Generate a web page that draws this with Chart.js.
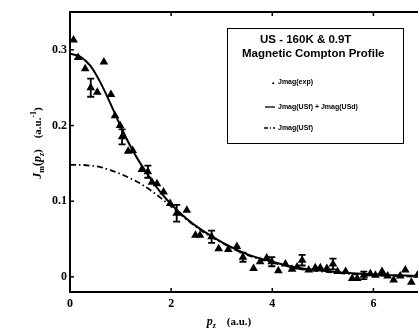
<!DOCTYPE html>
<html>
<head>
<meta charset="utf-8">
<script src="https://cdn.jsdelivr.net/npm/chart.js@4.4.0/dist/chart.umd.min.js"></script>
<style>
  html, body { margin: 0; padding: 0; background: #fff; overflow: hidden; }
  #wrap { width: 430px; height: 329px; }
</style>
</head>
<body>
<div id="wrap"><canvas id="myChart" width="430" height="329"></canvas></div>
<script>
// measured points, Jmag(exp)
const pzExp = [0.07, 0.16, 0.30, 0.41, 0.54, 0.67, 0.81, 0.89, 0.99, 1.03, 1.15, 1.24, 1.42, 1.54, 1.62, 1.72, 1.85, 1.98,
  2.11, 2.31, 2.48, 2.57, 2.80, 2.94, 3.13, 3.30, 3.42, 3.63, 3.76, 3.89, 3.99, 4.12, 4.26, 4.39, 4.49, 4.59,
  4.72, 4.85, 4.95, 5.08, 5.20, 5.29, 5.45, 5.58, 5.68, 5.81, 5.94, 6.04, 6.17, 6.28, 6.40, 6.53, 6.63, 6.75, 6.87];
const jExp = [0.313, 0.290, 0.275, 0.250, 0.244, 0.284, 0.241, 0.213, 0.200, 0.185, 0.166, 0.167, 0.142, 0.139, 0.125, 0.123, 0.112, 0.097,
  0.084, 0.088, 0.055, 0.055, 0.053, 0.037, 0.036, 0.040, 0.026, 0.011, 0.020, 0.025, 0.020, 0.008, 0.017, 0.010, 0.013, 0.022,
  0.009, 0.012, 0.012, 0.011, 0.017, 0.007, 0.007, -0.002, -0.002, 0.002, 0.004, 0.002, 0.007, 0.001, -0.004, 0.001, 0.009, -0.007, 0.002];
// error bar half-heights (null = none drawn)
const errExp = [null, null, null, 0.012, null, null, null, null, null, 0.010, null, null, null, 0.008, null, null, null, null,
  0.011, null, null, null, 0.008, null, null, null, 0.006, null, null, null, 0.006, null, null, null, null, 0.007,
  null, null, null, null, 0.007, null, null, null, null, 0.005, null, null, null, null, null, null, null, null, null];

// fitted curves
const pzFit = [0, 0.2, 0.4, 0.6, 0.8, 1.0, 1.2, 1.4, 1.6, 1.8, 2.0, 2.3, 2.6, 3.0, 3.5, 4.0, 4.5, 5.0, 5.5, 6.0, 6.5, 7.0];
const jTotal = [0.295, 0.291, 0.279, 0.257, 0.229, 0.199, 0.172, 0.149, 0.129, 0.111, 0.096, 0.077, 0.062, 0.046, 0.030, 0.020, 0.012, 0.008, 0.005, 0.003, 0.002, 0.001];
const jUSf = [0.148, 0.148, 0.147, 0.145, 0.141, 0.136, 0.130, 0.123, 0.114, 0.104, 0.093, 0.076, 0.061, 0.045, 0.029, 0.019, 0.011, 0.007, 0.004, 0.002, 0.001, 0.000];

const xTicks = [0, 2, 4, 6];
const yTicks = [0, 0.1, 0.2, 0.3];

const legendTitle = ['US - 160K & 0.9T', 'Magnetic Compton Profile'];
const legendLabels = ['Jmag(exp)', 'Jmag(USf) + Jmag(USd)', 'Jmag(USf)'];

const ctx = document.getElementById('myChart');

function toXY(xs, ys) {
  return xs.map((x, i) => ({ x: x, y: ys[i] }));
}

// draws text pieces one after another (for sub/superscripts)
function drawParts(c, parts, cx, cy) {
  let total = 0;
  parts.forEach(p => { c.font = p.font; total += c.measureText(p.t).width; });
  let x = cx - total / 2;
  parts.forEach(p => {
    c.font = p.font;
    c.fillText(p.t, x, cy + (p.dy || 0));
    x += c.measureText(p.t).width;
  });
}

const extras = {
  id: 'extras',
  afterDatasetsDraw(chart) {
    const c = chart.ctx;
    const a = chart.chartArea;
    const xs = chart.scales.x, ys = chart.scales.y;
    c.save();
    c.strokeStyle = '#000';
    c.fillStyle = '#000';

    // top frame line
    c.lineWidth = 2;
    c.beginPath();
    c.moveTo(a.left - 1, a.top);
    c.lineTo(a.right + 10, a.top);
    c.stroke();

    // inward ticks
    c.lineWidth = 1.5;
    xTicks.forEach(v => {
      const px = xs.getPixelForValue(v);
      c.beginPath();
      c.moveTo(px, a.bottom); c.lineTo(px, a.bottom - 4);
      c.moveTo(px, a.top); c.lineTo(px, a.top + 4);
      c.stroke();
    });
    yTicks.forEach(v => {
      const py = ys.getPixelForValue(v);
      c.beginPath();
      c.moveTo(a.left, py); c.lineTo(a.left + 4, py);
      c.stroke();
    });

    // error bars
    c.lineWidth = 1.8;
    errExp.forEach((e, i) => {
      if (e === null) return;
      const px = xs.getPixelForValue(pzExp[i]);
      const y1 = ys.getPixelForValue(jExp[i] + e);
      const y2 = ys.getPixelForValue(jExp[i] - e);
      c.beginPath();
      c.moveTo(px, y1); c.lineTo(px, y2);
      c.moveTo(px - 3.5, y1); c.lineTo(px + 3.5, y1);
      c.moveTo(px - 3.5, y2); c.lineTo(px + 3.5, y2);
      c.stroke();
    });

    // legend box
    c.lineWidth = 1;
    c.strokeRect(227.5, 28.5, 176, 115);
    c.textBaseline = 'middle';
    c.textAlign = 'left';
    c.font = 'bold 11.5px "Liberation Sans", Arial, sans-serif';
    c.fillText(legendTitle[0], 260, 40);
    c.fillText(legendTitle[1], 242, 54);
    c.font = 'bold 7px "Liberation Sans", Arial, sans-serif';
    c.fillText(legendLabels[0], 278, 82);
    c.fillText(legendLabels[1], 278, 107);
    c.fillText(legendLabels[2], 278, 128);
    // legend samples
    c.beginPath();
    c.moveTo(272, 84); c.lineTo(274.5, 84); c.lineTo(273.2, 81.5); c.closePath();
    c.fill();
    c.lineWidth = 1.3;
    c.beginPath(); c.moveTo(265, 107); c.lineTo(275, 107); c.stroke();
    c.setLineDash([4, 2, 1, 2]);
    c.beginPath(); c.moveTo(264, 128); c.lineTo(275, 128); c.stroke();
    c.setLineDash([]);

    // x title
    c.textAlign = 'left';
    c.textBaseline = 'alphabetic';
    drawParts(c, [
      { t: 'p', font: 'italic bold 12px "Liberation Serif", serif' },
      { t: 'z', font: 'italic bold 8px "Liberation Serif", serif', dy: 3 },
      { t: '    (a.u.)', font: 'bold 11px "Liberation Serif", serif' }
    ], 229, 325);

    // y title
    c.translate(37, 143);
    c.rotate(-Math.PI / 2);
    drawParts(c, [
      { t: 'J', font: 'italic bold 12px "Liberation Serif", serif' },
      { t: 'm', font: 'bold 8px "Liberation Serif", serif', dy: 3 },
      { t: '(', font: 'bold 12px "Liberation Serif", serif' },
      { t: 'p', font: 'italic bold 12px "Liberation Serif", serif' },
      { t: 'z', font: 'italic bold 8px "Liberation Serif", serif', dy: 3 },
      { t: ')    (a.u.', font: 'bold 11px "Liberation Serif", serif' },
      { t: '-1', font: 'bold 8px "Liberation Serif", serif', dy: -5 },
      { t: ')', font: 'bold 11px "Liberation Serif", serif' }
    ], 0, 4);
    c.restore();
  }
};

const myChart = new Chart(ctx, {
  type: 'scatter',
  data: {
    datasets: [
      {
        label: legendLabels[0],
        data: toXY(pzExp, jExp),
        pointStyle: 'triangle',
        pointRadius: 5,
        backgroundColor: '#000',
        borderColor: '#000',
        borderWidth: 0,
        showLine: false
      },
      {
        label: legendLabels[1],
        data: toXY(pzFit, jTotal),
        showLine: true,
        pointRadius: 0,
        borderColor: '#000',
        borderWidth: 2,
        cubicInterpolationMode: 'monotone'
      },
      {
        label: legendLabels[2],
        data: toXY(pzFit, jUSf),
        showLine: true,
        pointRadius: 0,
        borderColor: '#000',
        borderWidth: 1.8,
        borderDash: [6, 3, 1.5, 3],
        cubicInterpolationMode: 'monotone'
      }
    ]
  },
  options: {
    responsive: false,
    animation: false,
    layout: { padding: { top: 12, right: 6, left: 0, bottom: 0 } },
    plugins: { legend: { display: false }, tooltip: { enabled: false } },
    scales: {
      x: {
        type: 'linear',
        min: 0, max: 7,
        afterBuildTicks: s => { s.ticks = xTicks.map(v => ({ value: v })); },
        afterFit: s => { s.height = 37; },
        grid: { display: false, drawTicks: false },
        border: { display: true, color: '#000', width: 2 },
        ticks: {
          padding: 5,
          color: '#000',
          font: { family: '"Liberation Serif", serif', weight: 'bold', size: 12 },
          callback: v => String(v)
        }
      },
      y: {
        type: 'linear',
        min: -0.02, max: 0.35,
        afterBuildTicks: s => { s.ticks = yTicks.map(v => ({ value: v })); },
        afterFit: s => { s.width = 70; },
        grid: { display: false, drawTicks: false },
        border: { display: true, color: '#000', width: 2 },
        ticks: {
          padding: 3,
          color: '#000',
          font: { family: '"Liberation Serif", serif', weight: 'bold', size: 12 },
          callback: v => (v === 0 ? '0' : v.toFixed(1))
        }
      }
    }
  },
  plugins: [extras]
});
</script>
</body>
</html>
